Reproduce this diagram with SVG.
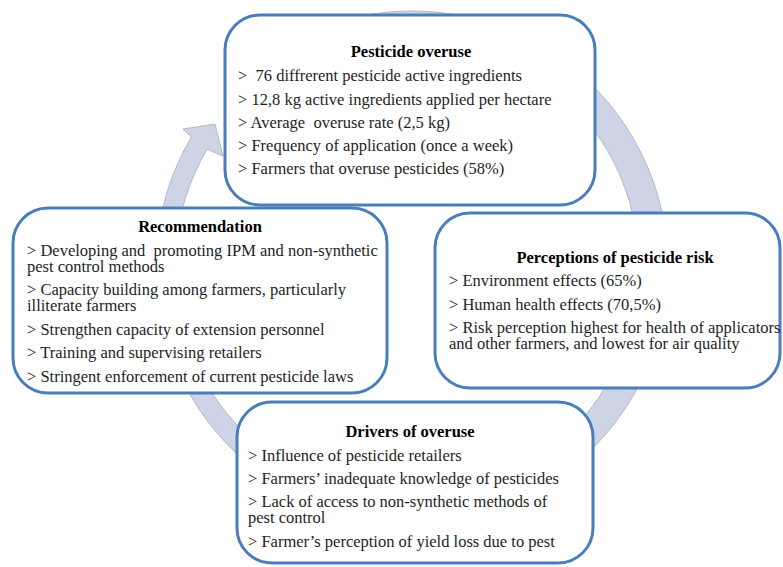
<svg xmlns="http://www.w3.org/2000/svg" width="783" height="567" viewBox="0 0 783 567">
<style>
.box{fill:#ffffff;stroke:#4a7ebb;stroke-width:3}
.ring{fill:#cdd4e6;stroke:#b3b8c6;stroke-width:1}
.t{font-family:"Liberation Serif","Times New Roman",serif;font-size:16.5px;fill:#1e1e1e;white-space:pre}
.h{font-family:"Liberation Serif","Times New Roman",serif;font-size:16.5px;font-weight:bold;fill:#000000;text-anchor:middle}
</style>
<rect width="783" height="567" fill="#ffffff"/>
<g id="connectors">
<path class="ring" d="M 324.4,26.4 A 256 256 0 1 1 191.3,137.1 L 183,129 L 215,124 L 223,156 L 207.0,149.3 A 232 232 0 1 0 327.7,49.0 Z"/>
</g>
<g id="node-overuse">
<rect class="box" x="225" y="15" width="370" height="190" rx="35"/>
<text class="h" x="411" y="57">Pesticide overuse</text>
<text class="t" x="238" y="81" xml:space="preserve">&gt;  76 diffrerent pesticide active ingredients</text>
<text class="t" x="238" y="104.5">&gt; 12,8 kg active ingredients applied per hectare</text>
<text class="t" x="238" y="127.5" xml:space="preserve">&gt; Average  overuse rate (2,5 kg)</text>
<text class="t" x="238" y="150.5">&gt; Frequency of application (once a week)</text>
<text class="t" x="238" y="173.5">&gt; Farmers that overuse pesticides (58%)</text>
</g>
<g id="node-perceptions">
<rect class="box" x="435" y="213" width="345" height="175" rx="35"/>
<text class="h" x="615" y="263">Perceptions of pesticide risk</text>
<text class="t" x="449" y="286">&gt; Environment effects (65%)</text>
<text class="t" x="449" y="310">&gt; Human health effects (70,5%)</text>
<text class="t" x="449" y="333">&gt; Risk perception highest for health of applicators</text>
<text class="t" x="449" y="349">and other farmers, and lowest for air quality</text>
</g>
<g id="node-drivers">
<rect class="box" x="237" y="402" width="356" height="161" rx="35"/>
<text class="h" x="410" y="437">Drivers of overuse</text>
<text class="t" x="248" y="461">&gt; Influence of pesticide retailers</text>
<text class="t" x="248" y="484">&gt; Farmers’ inadequate knowledge of pesticides</text>
<text class="t" x="248" y="507">&gt; Lack of access to non-synthetic methods of</text>
<text class="t" x="248" y="523">pest control</text>
<text class="t" x="248" y="547">&gt; Farmer’s perception of yield loss due to pest</text>
</g>
<g id="node-recommendation">
<rect class="box" x="13" y="208" width="374" height="185" rx="35"/>
<text class="h" x="200" y="232">Recommendation</text>
<text class="t" x="27" y="256" xml:space="preserve">&gt; Developing and  promoting IPM and non-synthetic</text>
<text class="t" x="27" y="272">pest control methods</text>
<text class="t" x="27" y="295">&gt; Capacity building among farmers, particularly</text>
<text class="t" x="27" y="311">illiterate farmers</text>
<text class="t" x="27" y="335">&gt; Strengthen capacity of extension personnel</text>
<text class="t" x="27" y="358">&gt; Training and supervising retailers</text>
<text class="t" x="27" y="382">&gt; Stringent enforcement of current pesticide laws</text>
</g>
</svg>
